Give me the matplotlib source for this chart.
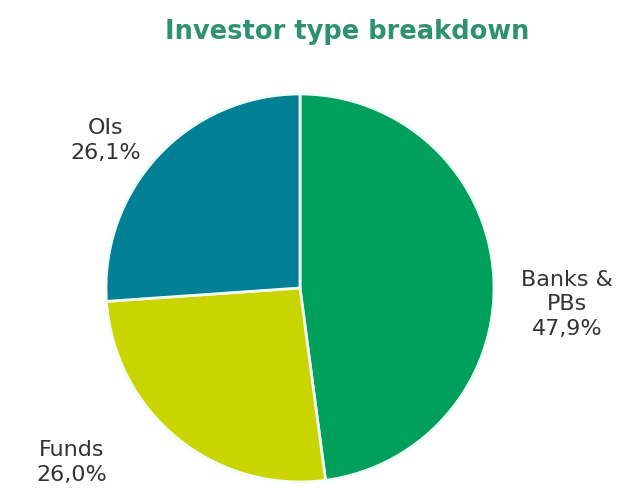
import matplotlib
matplotlib.use('Agg')
import matplotlib.pyplot as plt

# investor breakdown, clockwise from 12 o'clock
labels = ['Banks &\nPBs', 'Funds', 'OIs']
shares = [47.9, 26.0, 26.1]
colors = ['#00A05C', '#C9D400', '#007F95']

plt.rcParams['font.family'] = ['DejaVu Sans']

fig = plt.figure(figsize=(6.21, 4.89), dpi=100)
ax = fig.add_axes([0.1707, 0.0123, 0.6248, 0.7935])

wedges, _ = ax.pie(shares, colors=colors, startangle=90, counterclock=False,
                   wedgeprops=dict(edgecolor='#EFFFF8', linewidth=2))
ax.set_xlim(-1, 1)
ax.set_ylim(-1, 1)
ax.set_aspect('equal')

def fmt(v):
    return f'{v:.1f}%'.replace('.', ',')

# label positions next to each slice
label_pos = [(1.375, -0.08), (-1.175, -0.895), (-1.0, 0.765)]
for lab, v, (x, y) in zip(labels, shares, label_pos):
    ax.text(x, y, lab + '\n' + fmt(v), ha='center', va='center',
            fontsize=16, color='#333333', linespacing=1.3, clip_on=False)

fig.text(0.559, 0.935, 'Investor type breakdown', ha='center', va='center',
         fontsize=18.5, fontweight='bold', color='#2E9170')

fig.savefig('out.png', dpi=100)
